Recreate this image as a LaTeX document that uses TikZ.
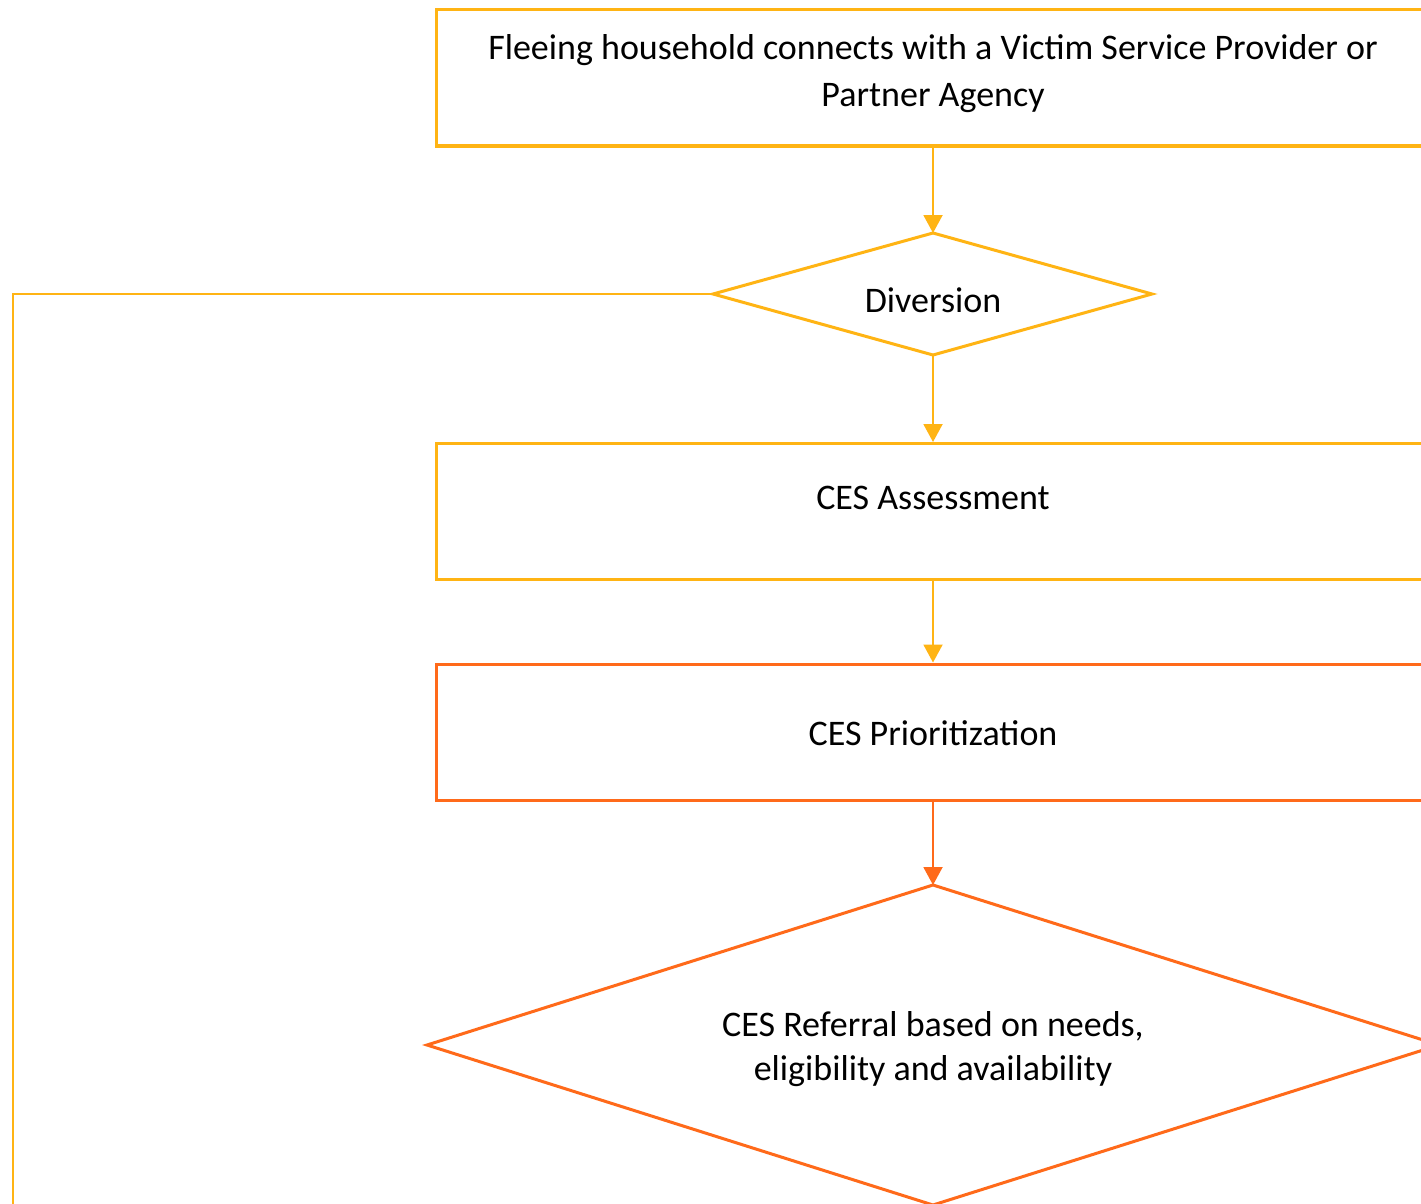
\documentclass[tikz,border=0pt]{standalone}
\usepackage{fontspec}
\setmainfont{Carlito}
\usetikzlibrary{arrows.meta}
\definecolor{gold}{HTML}{FFB414}
\definecolor{orng}{HTML}{FF6A1A}
\tikzset{
  boxnode/.style={draw=#1, line width=3pt, minimum width=994pt, minimum height=136pt, inner sep=0pt},
  dia/.style={draw=#1, line width=3pt, line join=miter},
  txt/.style={inner sep=0pt, align=center, font=\fontsize{36}{47}\selectfont},
  conn/.style={draw=#1, line width=2pt, -{Triangle[width=19pt,length=18pt]}},
}
\begin{document}
\begin{tikzpicture}[x=1pt,y=-1pt]
\useasboundingbox (0,0) rectangle (1421,1204);
\clip (0,0) rectangle (1421,1204);
\fill[white] (0,0) rectangle (1421,1204);
% box 1
\node[boxnode=gold] (b1) at (933,78) {};
\node[txt] (t1) at (933,74) {Fleeing household connects with a Victim Service Provider or\\Partner Agency};
% diamond 1
\coordinate (d1n) at (933,233);
\coordinate (d1e) at (1152,294);
\coordinate (d1s) at (933,355);
\coordinate (d1w) at (713,294);
\draw[dia=gold] (d1n) -- (d1e) -- (d1s) -- (d1w) -- cycle;
\node[txt] (t2) at (933,300) {Diversion};
% box 2
\node[boxnode=gold] (b2) at (933,511.5) {};
\node[txt] (t3) at (933,498) {CES Assessment};
% box 3
\node[boxnode=orng] (b3) at (933,732) {};
\node[txt] (t4) at (933,733) {CES Prioritization};
% diamond 2
\coordinate (d2n) at (933,885);
\coordinate (d2e) at (1439,1045);
\coordinate (d2s) at (933,1205);
\coordinate (d2w) at (427,1045);
\draw[dia=orng] (d2n) -- (d2e) -- (d2s) -- (d2w) -- cycle;
\node[txt, font=\fontsize{36}{44}\selectfont] (t5) at (933,1049) {CES Referral based on needs,\\eligibility and availability};
% connectors
\coordinate (lb) at (13,1220);
\draw[conn=gold] (b1.south) -- (d1n);
\draw[conn=gold] (d1s) -- (b2.north);
\draw[conn=gold] (b2.south) -- (b3.north);
\draw[conn=orng] (b3.south) -- (d2n);
\draw[draw=gold, line width=2pt] (d1w) -| (lb);
\end{tikzpicture}
\end{document}
